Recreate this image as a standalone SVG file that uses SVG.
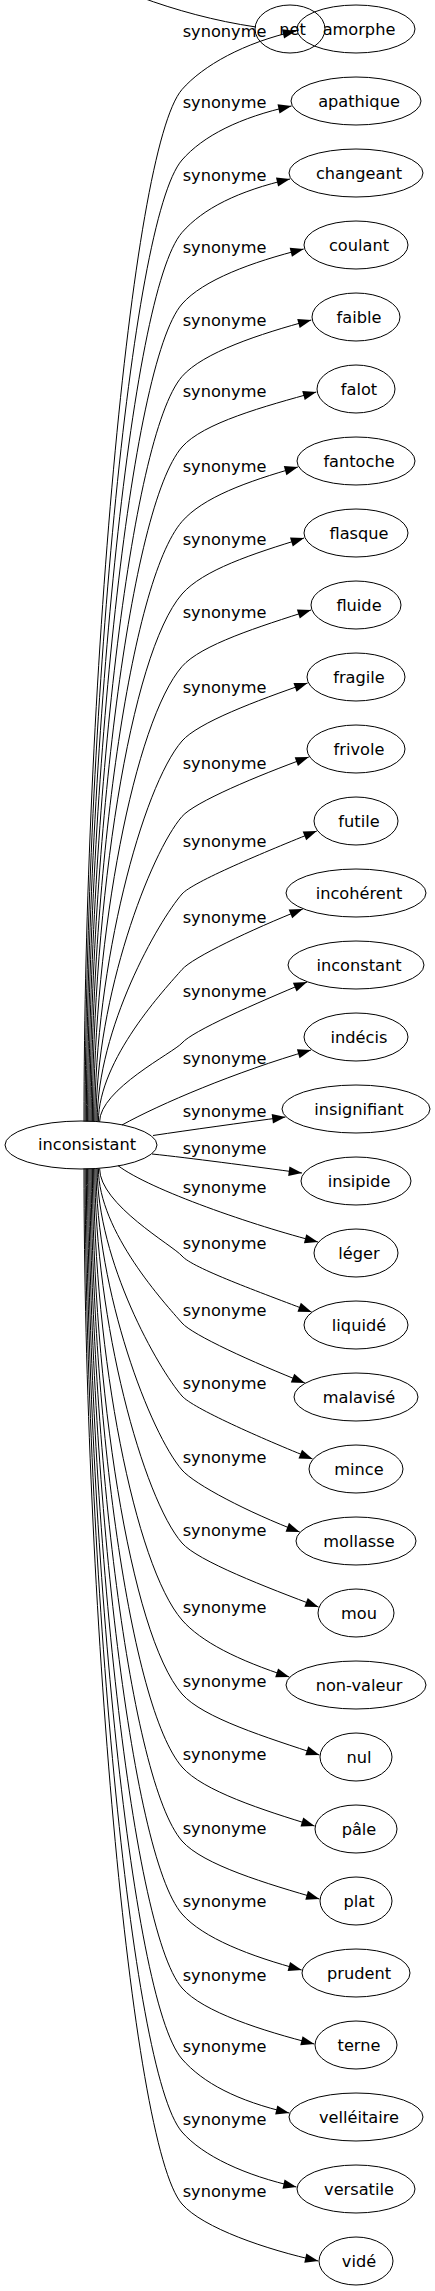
<svg xmlns="http://www.w3.org/2000/svg" width="435" height="2291" viewBox="0 0 435 2291">
<style>
text{font-family:"DejaVu Sans","Liberation Sans",sans-serif;font-size:16.2px;fill:#000}
.n text{text-anchor:middle}
ellipse{fill:none;stroke:#000;stroke-width:1}
.e path{fill:none;stroke:#000;stroke-width:1}
.e path.a{marker-end:url(#ah)}
.lb{text-anchor:start}
</style>
<defs>
<marker id="ah" viewBox="0 0 13.3 9.4" refX="13.3" refY="4.7" markerWidth="13.3" markerHeight="9.4" markerUnits="userSpaceOnUse" orient="auto" overflow="visible"><path d="M0,0 L13.3,4.7 L0,9.4 Z" fill="#000"/></marker>
</defs>
<rect x="0" y="0" width="435" height="2291" fill="#fff"/>
<g id="connectors" class="e">
<path d="M140,-3 C175,10 215,21 256,27"/>
<path class="a" d="M84,1121.5 C84,698 130,149.5 182,89.5 C203,65.5 244,42.7 296,31"/>
<path class="a" d="M85.2,1121.5 C85.2,727.3 130,220 182,160 C203,136 239.5,117.4 291.5,106"/>
<path class="a" d="M86.4,1121.5 C86.4,757 130,292.5 182,232.5 C203,208.5 238,191 290,179"/>
<path class="a" d="M87.6,1121.5 C87.6,786.3 130,364 182,304 C203,280 251.7,262 303.7,249"/>
<path class="a" d="M88.8,1121.5 C88.8,816 130,436.5 182,376.5 C203,352.5 259.3,334 311.3,320"/>
<path class="a" d="M90,1121.5 C90,845 130,507 182,447 C203,423 264.3,406.3 316.3,392"/>
<path class="a" d="M91.2,1121.5 C91.2,875.5 130,581.5 182,521.5 C203,497.5 245.9,481.8 297.9,467"/>
<path class="a" d="M92.4,1121.5 C92.4,905.2 130,654 182,594 C203,570 252.1,553.9 304.1,538"/>
<path class="a" d="M93.6,1121.5 C93.6,934.9 134.7,721.1 182,666.5 C201.1,644.7 259,626.7 311,610"/>
<path class="a" d="M94.8,1121.5 C94.8,965.5 142.4,786.7 182,741 C198,722.7 255.6,700.9 307.6,683"/>
<path class="a" d="M96,1121.5 C96,996.5 150.3,853.1 182,816.5 C194.8,801.9 256.8,776 308.8,757"/>
<path class="a" d="M97.2,1121.5 C97.2,1028.2 158.3,921.3 182,894 C192.5,882 264.8,851.9 316.8,831"/>
<path class="a" d="M98.4,1121.5 C98.4,1059.2 166.2,987.7 182,969.5 C192.5,957.5 250.8,929.8 302.8,909"/>
<path class="a" d="M99.6,1121.8 C99.6,1089.6 173.8,1052.4 182,1043 C192.5,1031 255,1003.7 307,982"/>
<path class="a" d="M122,1125 C160,1104 235,1072 311,1050"/>
<path class="a" d="M153,1135.5 C190,1130 240,1123 285.5,1117"/>
<path class="a" d="M152,1154 C190,1158 250,1166 302,1173"/>
<path class="a" d="M118,1165.6 C150,1190 255,1226 318,1242"/>
<path class="a" d="M99.6,1168.5 C99.6,1204.4 172.9,1245.5 182,1256 C192.5,1268 259.6,1292.1 311.6,1312"/>
<path class="a" d="M98.4,1168.5 C98.4,1231.8 165.9,1304.5 182,1323 C192.5,1335 252.9,1362.4 304.9,1383"/>
<path class="a" d="M97.2,1168.5 C97.2,1261.8 158.3,1368.7 182,1396 C192.5,1408 260.6,1438.1 312.6,1459"/>
<path class="a" d="M96,1168.5 C96,1292.1 150.6,1433.8 182,1470 C194.7,1484.5 247.7,1512.2 299.7,1532"/>
<path class="a" d="M94.8,1168.5 C94.8,1322 143.1,1498.1 182,1543 C197.7,1561 266.5,1587.3 318.5,1607"/>
<path class="a" d="M93.6,1168.5 C93.6,1353.6 135,1565.8 182,1620 C201,1641.7 237.3,1660.1 289.3,1677"/>
<path class="a" d="M92.4,1168.5 C92.4,1384 130,1634 182,1694 C203,1718 267.4,1737.7 319.4,1755"/>
<path class="a" d="M91.2,1168.5 C91.2,1413.9 130,1707 182,1767 C203,1791 262.6,1810 314.6,1826"/>
<path class="a" d="M90,1168.5 C90,1444.2 130,1781 182,1841 C203,1865 267.4,1883.9 319.4,1899"/>
<path class="a" d="M88.8,1168.5 C88.8,1474.2 130,1854 182,1914 C203,1938 249.7,1956.1 301.7,1970"/>
<path class="a" d="M87.6,1168.5 C87.6,1504.5 130,1928 182,1988 C203,2012 262.3,2030.8 314.3,2044"/>
<path class="a" d="M86.4,1168.5 C86.4,1533.6 130,1999 182,2059 C203,2083 237.2,2100.9 289.2,2113"/>
<path class="a" d="M85.2,1168.5 C85.2,1563.5 130,2072 182,2132 C203,2156 244.5,2175.3 296.5,2187"/>
<path class="a" d="M84,1168.5 C84,1593.1 130,2144 182,2204 C203,2228 266.3,2249.6 318.3,2261"/>
<g class="lb">
<text x="182.7" y="37">synonyme</text>
<text x="182.7" y="108">synonyme</text>
<text x="182.7" y="181">synonyme</text>
<text x="182.7" y="253">synonyme</text>
<text x="182.7" y="326">synonyme</text>
<text x="182.7" y="397">synonyme</text>
<text x="182.7" y="472">synonyme</text>
<text x="182.7" y="545">synonyme</text>
<text x="182.7" y="618">synonyme</text>
<text x="182.7" y="693">synonyme</text>
<text x="182.7" y="769">synonyme</text>
<text x="182.7" y="847">synonyme</text>
<text x="182.7" y="923">synonyme</text>
<text x="182.7" y="997">synonyme</text>
<text x="182.7" y="1064">synonyme</text>
<text x="182.7" y="1117">synonyme</text>
<text x="182.7" y="1154">synonyme</text>
<text x="182.7" y="1193">synonyme</text>
<text x="182.7" y="1249">synonyme</text>
<text x="182.7" y="1316">synonyme</text>
<text x="182.7" y="1389">synonyme</text>
<text x="182.7" y="1463">synonyme</text>
<text x="182.7" y="1536">synonyme</text>
<text x="182.7" y="1613">synonyme</text>
<text x="182.7" y="1687">synonyme</text>
<text x="182.7" y="1760">synonyme</text>
<text x="182.7" y="1834">synonyme</text>
<text x="182.7" y="1907">synonyme</text>
<text x="182.7" y="1981">synonyme</text>
<text x="182.7" y="2052">synonyme</text>
<text x="182.7" y="2125">synonyme</text>
<text x="182.7" y="2197">synonyme</text>
</g>
</g>
<g class="n">
<g id="inconsistant"><ellipse cx="81" cy="1145" rx="76" ry="24"/><text x="87" y="1150">inconsistant</text></g>
<g id="net"><ellipse cx="290" cy="29" rx="35" ry="24"/><text x="292.5" y="35">net</text></g>
<g id="amorphe"><ellipse cx="356" cy="29" rx="59" ry="24"/><text x="359" y="35">amorphe</text></g>
<g id="apathique"><ellipse cx="356" cy="101" rx="65" ry="24"/><text x="359" y="107">apathique</text></g>
<g id="changeant"><ellipse cx="356" cy="173" rx="67" ry="24"/><text x="359" y="179">changeant</text></g>
<g id="coulant"><ellipse cx="356" cy="245" rx="52" ry="24"/><text x="359" y="251">coulant</text></g>
<g id="faible"><ellipse cx="356" cy="317" rx="44" ry="24"/><text x="359" y="323">faible</text></g>
<g id="falot"><ellipse cx="356" cy="389" rx="39" ry="24"/><text x="359" y="395">falot</text></g>
<g id="fantoche"><ellipse cx="356" cy="461" rx="59" ry="24"/><text x="359" y="467">fantoche</text></g>
<g id="flasque"><ellipse cx="356" cy="533" rx="52" ry="24"/><text x="359" y="539">flasque</text></g>
<g id="fluide"><ellipse cx="356" cy="605" rx="45" ry="24"/><text x="359" y="611">fluide</text></g>
<g id="fragile"><ellipse cx="356" cy="677" rx="49" ry="24"/><text x="359" y="683">fragile</text></g>
<g id="frivole"><ellipse cx="356" cy="749" rx="49" ry="24"/><text x="359" y="755">frivole</text></g>
<g id="futile"><ellipse cx="356" cy="821" rx="42" ry="24"/><text x="359" y="827">futile</text></g>
<g id="incoherent"><ellipse cx="356" cy="893" rx="70" ry="24"/><text x="359" y="899">incohérent</text></g>
<g id="inconstant"><ellipse cx="356" cy="965" rx="68" ry="24"/><text x="359" y="971">inconstant</text></g>
<g id="indecis"><ellipse cx="356" cy="1037" rx="52" ry="24"/><text x="359" y="1043">indécis</text></g>
<g id="insignifiant"><ellipse cx="356" cy="1109" rx="74" ry="24"/><text x="359" y="1115">insignifiant</text></g>
<g id="insipide"><ellipse cx="356" cy="1181" rx="55" ry="24"/><text x="359" y="1187">insipide</text></g>
<g id="leger"><ellipse cx="356" cy="1253" rx="42" ry="24"/><text x="359" y="1259">léger</text></g>
<g id="liquide"><ellipse cx="356" cy="1325" rx="52" ry="24"/><text x="359" y="1331">liquidé</text></g>
<g id="malavise"><ellipse cx="356" cy="1397" rx="62" ry="24"/><text x="359" y="1403">malavisé</text></g>
<g id="mince"><ellipse cx="356" cy="1469" rx="47" ry="24"/><text x="359" y="1475">mince</text></g>
<g id="mollasse"><ellipse cx="356" cy="1541" rx="60" ry="24"/><text x="359" y="1547">mollasse</text></g>
<g id="mou"><ellipse cx="356" cy="1613" rx="38" ry="24"/><text x="359" y="1619">mou</text></g>
<g id="non-valeur"><ellipse cx="356" cy="1685" rx="70" ry="24"/><text x="359" y="1691">non-valeur</text></g>
<g id="nul"><ellipse cx="356" cy="1757" rx="36" ry="24"/><text x="359" y="1763">nul</text></g>
<g id="pale"><ellipse cx="356" cy="1829" rx="41" ry="24"/><text x="359" y="1835">pâle</text></g>
<g id="plat"><ellipse cx="356" cy="1901" rx="36" ry="24"/><text x="359" y="1907">plat</text></g>
<g id="prudent"><ellipse cx="356" cy="1973" rx="54" ry="24"/><text x="359" y="1979">prudent</text></g>
<g id="terne"><ellipse cx="356" cy="2045" rx="41" ry="24"/><text x="359" y="2051">terne</text></g>
<g id="velleitaire"><ellipse cx="356" cy="2117" rx="67" ry="24"/><text x="359" y="2123">velléitaire</text></g>
<g id="versatile"><ellipse cx="356" cy="2189" rx="59" ry="24"/><text x="359" y="2195">versatile</text></g>
<g id="vide"><ellipse cx="356" cy="2261" rx="37" ry="24"/><text x="359" y="2267">vidé</text></g>
</g>
</svg>
